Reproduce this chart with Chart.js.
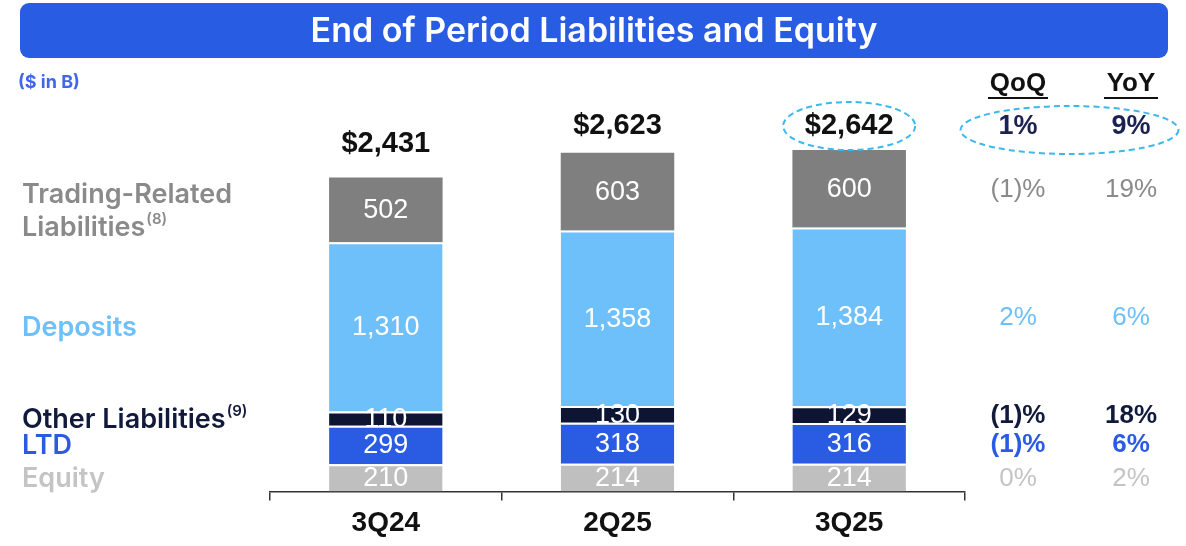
<!DOCTYPE html>
<html>
<head>
<meta charset="utf-8">
<script src="https://cdn.jsdelivr.net/npm/chart.js@4"></script>
<style>
  body { margin: 0; background: #fff; }
  canvas { display: block; }
</style>
</head>
<body>
<canvas id="liabChart" width="1186" height="546"></canvas>
<script>
const categories = ["3Q24", "2Q25", "3Q25"];
const equity = [210, 214, 214];
const ltd = [299, 318, 316];
const otherLiab = [110, 130, 129];
const deposits = [1310, 1358, 1384];
const trading = [502, 603, 600];
const totals = ["$2,431", "$2,623", "$2,642"];

// row labels, bottom to top, same order as datasets
const rowNames = ["Equity", "LTD", "Other Liabilities", "Deposits", "Trading-Related Liabilities"];
const rowNotes = ["", "", "(9)", "", "(8)"];
const qoq = ["0%", "(1)%", "(1)%", "2%", "(1)%"];
const yoy = ["2%", "6%", "18%", "6%", "19%"];
const totalQoq = "1%";
const totalYoy = "9%";

const colors = ["#bfbfbf", "#2a5ce3", "#0e1533", "#6dc0fa", "#7f7f7f"];
const textColors = ["#c4c4c4", "#2a5ce3", "#121a3c", "#6dc0fa", "#8a8a8a"];

const numFont = "'Liberation Sans', Arial, sans-serif";
const labelFont = "Inter, 'Open Sans', sans-serif";

const seg = (label, data, i) => ({
  label: label,
  data: data,
  backgroundColor: colors[i],
  borderColor: "#ffffff",
  borderWidth: i === 4 ? 0 : { top: 2, right: 0, bottom: 0, left: 0 },
  borderSkipped: false,
  barPercentage: 0.49,
  categoryPercentage: 1,
});

const extras = {
  id: "extras",
  beforeDraw(chart) {
    const ctx = chart.ctx;
    ctx.save();
    // title banner
    ctx.fillStyle = "#285ce2";
    ctx.beginPath();
    ctx.roundRect(20, 3, 1148, 55, 9);
    ctx.fill();
    ctx.fillStyle = "#ffffff";
    ctx.font = "600 34px " + labelFont;
    ctx.textAlign = "center";
    ctx.textBaseline = "middle";
    ctx.fillText("End of Period Liabilities and Equity", 594, 32);

    ctx.fillStyle = "#4066ea";
    ctx.font = "bold 18px " + labelFont;
    ctx.textAlign = "left";
    ctx.fillText("($ in B)", 18, 83);
    ctx.restore();
  },
  afterDatasetsDraw(chart) {
    const ctx = chart.ctx;
    ctx.save();
    ctx.textAlign = "center";
    ctx.textBaseline = "middle";

    // values inside segments
    ctx.font = "27px " + numFont;
    ctx.fillStyle = "#ffffff";
    chart.data.datasets.forEach((ds, d) => {
      chart.getDatasetMeta(d).data.forEach((bar, i) => {
        ctx.fillText(ds.data[i].toLocaleString("en-US"), bar.x, (bar.y + bar.base) / 2 + 1);
      });
    });

    // totals above bars
    const top = chart.getDatasetMeta(4).data;
    const totalY = (bar) => Math.max(bar.y - 33, 126);
    ctx.font = "bold 29px " + numFont;
    ctx.fillStyle = "#111111";
    top.forEach((bar, i) => {
      ctx.fillText(totals[i], bar.x, totalY(bar));
    });
    const lastTotalY = totalY(top[2]);

    // left row labels, aligned with first bar
    ctx.textAlign = "left";
    for (let d = 0; d < 5; d++) {
      const bar = chart.getDatasetMeta(d).data[0];
      const cy = (bar.y + bar.base) / 2;
      ctx.fillStyle = textColors[d];
      let lines = [rowNames[d]];
      if (d === 4) lines = ["Trading-Related", "Liabilities"];
      const lh = 33;
      lines.forEach((ln, k) => {
        const y = cy + (k - (lines.length - 1) / 2) * lh + 1;
        ctx.font = "600 27px " + labelFont;
        ctx.fillText(ln, 22, y);
        if (k === lines.length - 1 && rowNotes[d]) {
          const w = ctx.measureText(ln).width;
          ctx.font = "600 15px " + labelFont;
          ctx.fillText(rowNotes[d], 22 + w + 1, y - 8);
        }
      });
    }

    // QoQ / YoY columns, aligned with last bar
    const qx = 1018, yx = 1131;
    ctx.textAlign = "center";
    ctx.font = "bold 26px " + numFont;
    ctx.fillStyle = "#111111";
    ctx.fillText("QoQ", qx, 84);
    ctx.fillText("YoY", yx, 84);
    ctx.strokeStyle = "#111111";
    ctx.lineWidth = 2;
    ctx.beginPath();
    ctx.moveTo(qx - 30, 98); ctx.lineTo(qx + 30, 98);
    ctx.moveTo(yx - 27, 98); ctx.lineTo(yx + 27, 98);
    ctx.stroke();

    ctx.fillStyle = "#1b2150";
    ctx.font = "bold 27px " + numFont;
    ctx.fillText(totalQoq, qx, lastTotalY + 1);
    ctx.fillText(totalYoy, yx, lastTotalY + 1);

    for (let d = 0; d < 5; d++) {
      const bar = chart.getDatasetMeta(d).data[2];
      const cy = (bar.y + bar.base) / 2;
      ctx.fillStyle = textColors[d];
      ctx.font = (d === 2 || d === 1 ? "bold " : "") + "26px " + numFont;
      ctx.fillText(qoq[d], qx, cy + 1);
      ctx.fillText(yoy[d], yx, cy + 1);
    }

    // dashed highlight ellipses
    ctx.strokeStyle = "#3db8ee";
    ctx.lineWidth = 2;
    ctx.setLineDash([6, 4]);
    ctx.beginPath();
    ctx.ellipse(top[2].x, lastTotalY, 66, 24, 0, 0, Math.PI * 2);
    ctx.stroke();
    ctx.beginPath();
    ctx.ellipse((qx + yx) / 2 - 5, lastTotalY + 4, 109, 24, 0, 0, Math.PI * 2);
    ctx.stroke();
    ctx.restore();
  },
};

const ctx = document.getElementById("liabChart").getContext("2d");

const liabChart = new Chart(ctx, {
  type: "bar",
  data: {
    labels: categories,
    datasets: [
      seg("Equity", equity, 0),
      seg("LTD", ltd, 1),
      seg("Other Liabilities", otherLiab, 2),
      seg("Deposits", deposits, 3),
      seg("Trading-Related Liabilities", trading, 4),
    ],
  },
  options: {
    responsive: false,
    animation: false,
    devicePixelRatio: 1,
    layout: {
      padding: { left: 270, right: 221, top: 104, bottom: 0 },
    },
    scales: {
      y: {
        display: false,
        stacked: true,
        min: 0,
        max: 3000,
      },
      x: {
        stacked: true,
        grid: {
          drawOnChartArea: false,
          tickLength: 9,
          color: "#333333",
          lineWidth: 1.5,
        },
        border: {
          color: "#333333",
          width: 1.5,
        },
        ticks: {
          color: "#111111",
          padding: 6,
          font: { family: numFont, size: 28, weight: "bold" },
        },
      },
    },
    plugins: {
      legend: { display: false },
      tooltip: { enabled: false },
    },
  },
  plugins: [extras],
});
</script>
</body>
</html>
